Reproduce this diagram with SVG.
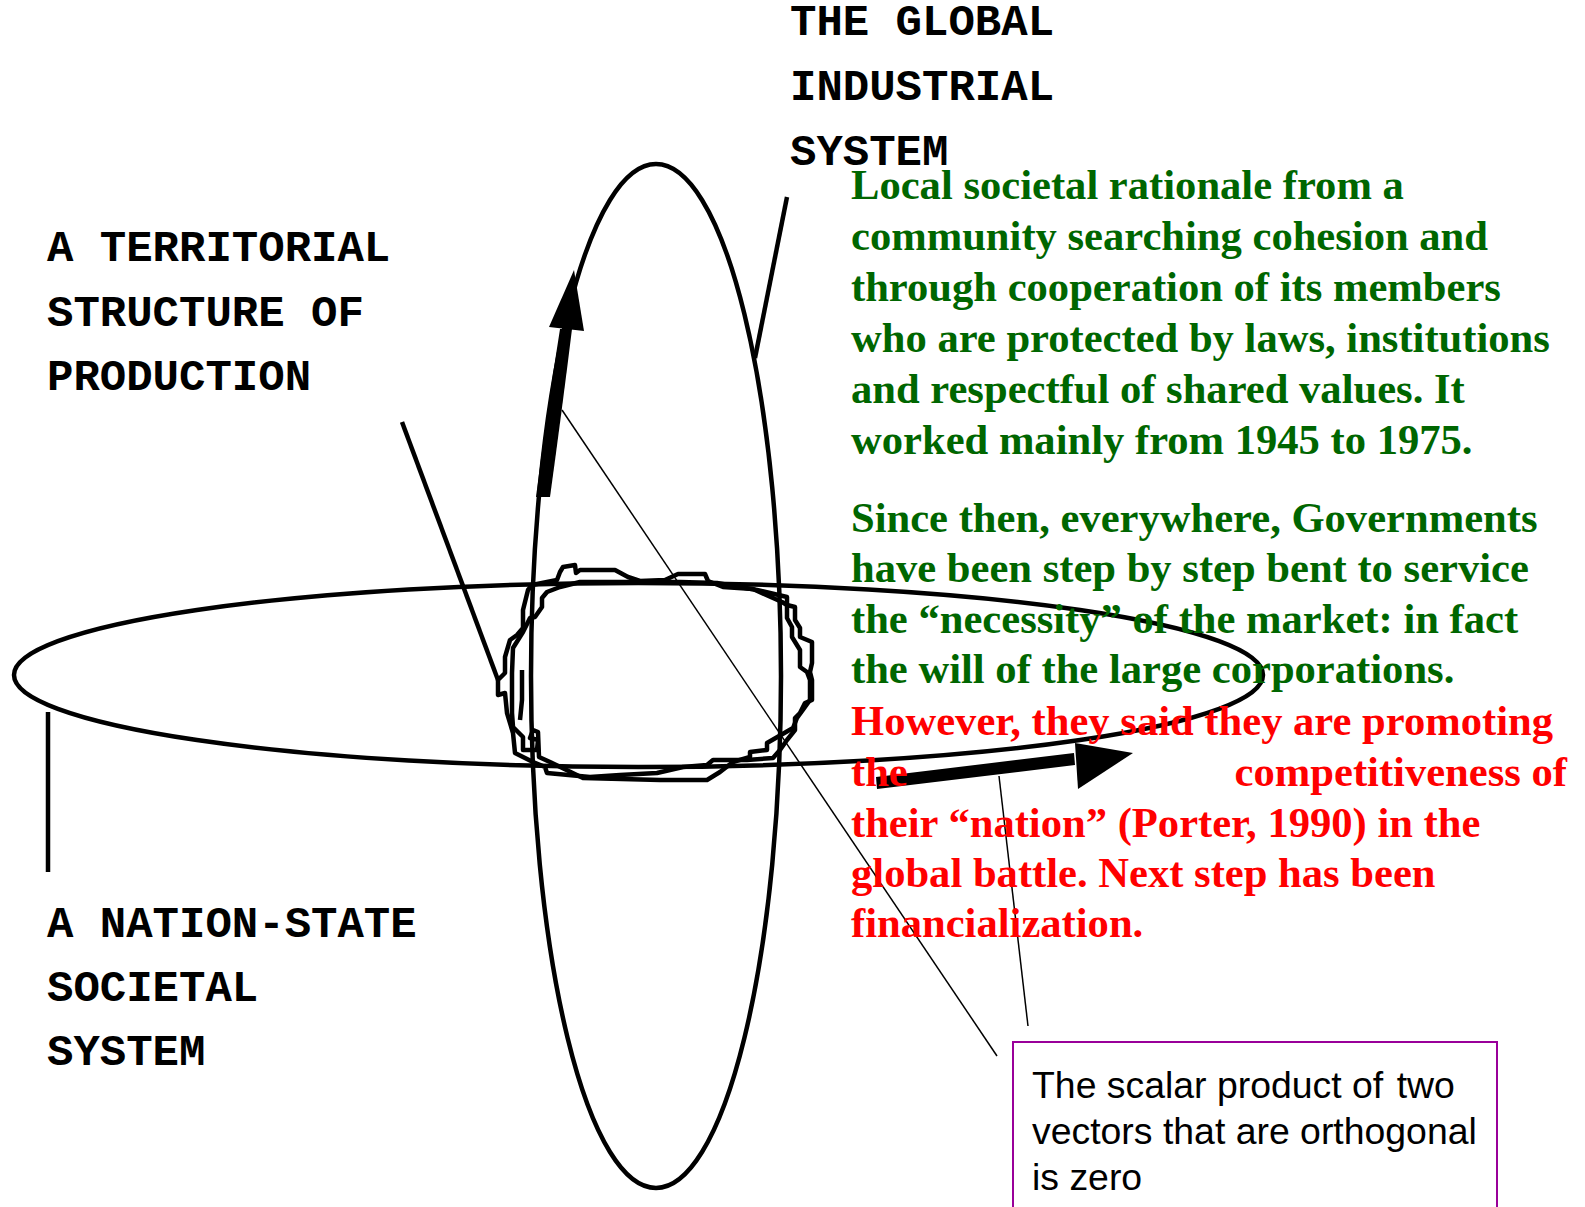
<svg xmlns="http://www.w3.org/2000/svg" width="1585" height="1207" viewBox="0 0 1585 1207">
<style>
.mono{font-family:"Liberation Mono","Courier New",monospace;font-weight:bold;font-size:44px;fill:#000}
.serif{font-family:"Liberation Serif","Times New Roman",serif;font-weight:bold;font-size:42.6px}
.green{fill:#006600}
.red{fill:#ff0000}
.sans{font-family:"Liberation Sans",Arial,sans-serif;font-size:37.4px;fill:#000}
.thick{fill:none;stroke:#000;stroke-width:4.5}
.thin{fill:none;stroke:#000;stroke-width:1.5}
.head{fill:#000;stroke:none}
</style>
<rect x="0" y="0" width="1585" height="1207" fill="#fff"/>
<g id="horizontal-ellipse"><ellipse class="thick" cx="638.5" cy="675" rx="624.5" ry="92"/></g>
<g id="vertical-ellipse"><ellipse class="thick" cx="656" cy="676" rx="125" ry="512"/></g>
<g id="core">
<polygon class="thick" stroke-linejoin="round" points="560,572 563,567 575,565 576,573 580,570 615,570 628,577 640,581 665,580 678,574 705,574 708,581 723,587 753,589 782,602 787,605 795,607 795,620 800,628 800,637 812,642 812,663 810,672 812,680 812,700 805,703 800,713 795,718 795,730 787,740 780,750 773,758 747,760 713,760 707,765 683,767 657,773 620,775 590,777 547,773 545,767 533,762 515,753 513,733 507,713 505,693 498,695 498,680 505,673 505,657 510,640 517,635 523,628 523,610 528,590 532,585 557,580"/>
<polygon class="thick" stroke-linejoin="round" points="560,587 547,592 542,598 542,607 535,617 530,618 523,632 513,648 512,673 512,713 513,727 523,737 523,750 537,750 538,740 530,738 533,730 538,732 539,757 550,762 583,778 660,780 707,780 720,772 733,762 750,757 750,752 767,750 767,743 793,728 797,718 805,707 810,700 810,680 807,672 800,667 800,650 792,637 792,627 787,618 787,597 757,590 740,587 717,583 680,582 640,582 580,582"/>
<polyline class="thick" points="522,670 522,700 520,720"/>
</g>
<g id="label-global"><text class="mono"><tspan x="790" y="35">THE GLOBAL</tspan><tspan x="790" y="100">INDUSTRIAL</tspan><tspan x="790" y="165">SYSTEM</tspan></text></g>
<g id="label-territorial"><text class="mono"><tspan x="47" y="261">A TERRITORIAL</tspan><tspan x="47" y="326">STRUCTURE OF</tspan><tspan x="47" y="390">PRODUCTION</tspan></text></g>
<g id="label-nation"><text class="mono"><tspan x="47" y="937">A NATION-STATE</tspan><tspan x="47" y="1001">SOCIETAL</tspan><tspan x="47" y="1065">SYSTEM</tspan></text></g>
<g id="connectors">
<line class="thick" x1="787" y1="197" x2="755" y2="358"/>
<line class="thick" x1="402" y1="422" x2="498" y2="680"/>
<line class="thick" x1="48" y1="712" x2="48" y2="872"/>
<line class="thin" x1="562" y1="410" x2="997" y2="1056"/>
<line class="thin" x1="999" y1="776" x2="1028" y2="1026"/>
<path class="head" d="M536,497 L550,497 Q562,410 572,329 L560,329 Q547,410 536,497 Z"/>
<polygon class="head" points="549,327 584,331 574,270"/>
<polygon class="head" points="876,777 1074,753 1075,765 877,789"/>
<polygon class="head" points="1075,743 1078,789 1133,753"/>
</g>
<g id="text-green"><text class="serif green"><tspan x="851" y="199">Local societal rationale from a</tspan><tspan x="851" y="250">community searching cohesion and</tspan><tspan x="851" y="301">through cooperation of its members</tspan><tspan x="851" y="352">who are protected by laws, institutions</tspan><tspan x="851" y="403">and respectful of shared values. It</tspan><tspan x="851" y="454">worked mainly from 1945 to 1975.</tspan></text>
<text class="serif green"><tspan x="851" y="532">Since then, everywhere, Governments</tspan><tspan x="851" y="582">have been step by step bent to service</tspan><tspan x="851" y="633">the “necessity” of the market: in fact</tspan><tspan x="851" y="683">the will of the large corporations.</tspan></text></g>
<g id="text-red"><text class="serif red"><tspan x="851" y="735">However, they said they are promoting</tspan><tspan x="851" y="786">the</tspan><tspan x="1567" y="786" text-anchor="end">competitiveness of</tspan><tspan x="851" y="837">their “nation” (Porter, 1990) in the</tspan><tspan x="851" y="887">global battle. Next step has been</tspan><tspan x="851" y="937">financialization.</tspan></text></g>
<g id="note-box"><rect x="1013" y="1042" width="484" height="180" fill="none" stroke="#990099" stroke-width="2"/>
<text class="sans"><tspan x="1032" y="1098">The scalar product of <tspan dx="3">two</tspan></tspan><tspan x="1032" y="1144">vectors that are orthogonal</tspan><tspan x="1032" y="1190">is zero</tspan></text></g>
</svg>
